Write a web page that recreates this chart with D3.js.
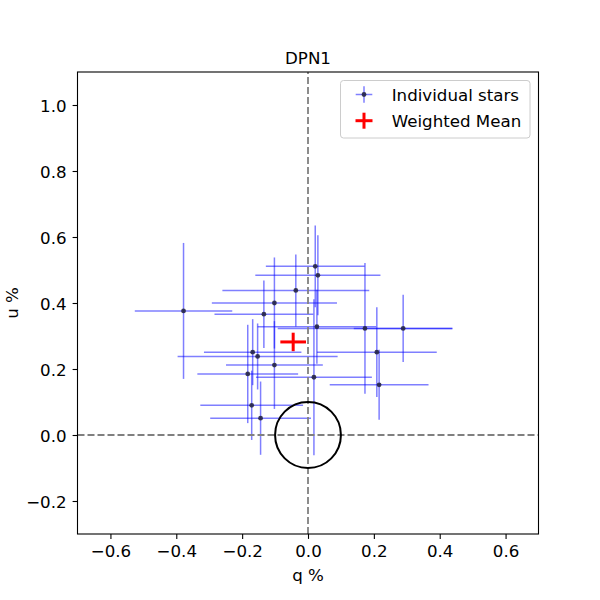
<!DOCTYPE html>
<html>
<head>
<meta charset="utf-8">
<script src="https://cdn.jsdelivr.net/npm/d3@7"></script>
<style>
body{margin:0;background:#fff;}
text{font-family:"DejaVu Sans",sans-serif;fill:#000;}
</style>
</head>
<body>
<svg id="chart" width="600" height="600"></svg>
<script>
// Data
const qVals  = [-0.378, 0.022, 0.030, -0.037, -0.102, -0.134, 0.027, 0.173, 0.289, -0.168, -0.153, 0.209, -0.102, -0.183, 0.018, 0.216, -0.171, -0.144];
const uVals  = [0.376, 0.511, 0.484, 0.438, 0.400, 0.366, 0.328, 0.323, 0.323, 0.251, 0.238, 0.251, 0.212, 0.185, 0.175, 0.152, 0.090, 0.051];
const qErrs  = [0.148, 0.150, 0.190, 0.223, 0.190, 0.150, 0.180, 0.265, 0.150, 0.148, 0.243, 0.182, 0.147, 0.153, 0.176, 0.150, 0.156, 0.153];
const uErrs  = [0.206, 0.124, 0.121, 0.109, 0.138, 0.102, 0.112, 0.198, 0.102, 0.100, 0.100, 0.136, 0.133, 0.149, 0.236, 0.106, 0.105, 0.111];
const meanQ = [-0.045];
const meanU = [0.282];
const meanQErr = [0.039];
const meanUErr = [0.028];
const circleRadius = [0.1];
const xTicks = [-0.6, -0.4, -0.2, 0.0, 0.2, 0.4, 0.6];
const yTicks = [-0.2, 0.0, 0.2, 0.4, 0.6, 0.8, 1.0];
const xDomain = [-0.7, 0.7];
const yDomain = [-0.3, 1.1];
const titleText = "DPN1";
const xLabel = "q %";
const yLabel = "u %";
const legendLabels = ["Individual stars", "Weighted Mean"];

const FS = "16.67px";
const svg = d3.select("#chart");
const L = 77.5, R = 538.5, T = 72, B = 534;
const x = d3.scaleLinear().domain(xDomain).range([L, R]);
const y = d3.scaleLinear().domain(yDomain).range([B, T]);
const fmt = d => d3.format(".1f")(d).replace("-", "\u2212");

const stars = qVals.map((q, i) => ({q, u: uVals[i], qe: qErrs[i], ue: uErrs[i]}));

const plot = svg.append("g");

// error bars
const eb = plot.append("g").attr("stroke", "blue").attr("stroke-opacity", 0.5).attr("stroke-width", 1.5);
stars.forEach(s => {
  eb.append("line").attr("x1", x(s.q - s.qe)).attr("x2", x(s.q + s.qe)).attr("y1", y(s.u)).attr("y2", y(s.u));
  eb.append("line").attr("x1", x(s.q)).attr("x2", x(s.q)).attr("y1", y(s.u - s.ue)).attr("y2", y(s.u + s.ue));
});

// dashed reference lines
plot.append("line").attr("x1", L).attr("x2", R).attr("y1", y(0)).attr("y2", y(0))
  .attr("stroke", "#808080").attr("stroke-width", 1.8).attr("stroke-dasharray", "7,3");
plot.append("line").attr("x1", x(0)).attr("x2", x(0)).attr("y1", B).attr("y2", T)
  .attr("stroke", "#808080").attr("stroke-width", 1.8).attr("stroke-dasharray", "7,3");

// points
plot.append("g").selectAll("circle").data(stars).join("circle")
  .attr("cx", d => x(d.q)).attr("cy", d => y(d.u)).attr("r", 2.4)
  .attr("fill", "#262645").attr("fill-opacity", 0.9);

// circle of radius 0.1
plot.append("ellipse").attr("cx", x(0)).attr("cy", y(0))
  .attr("rx", x(circleRadius[0]) - x(0)).attr("ry", y(0) - y(circleRadius[0]))
  .attr("fill", "none").attr("stroke", "#000").attr("stroke-width", 2);

// weighted mean
const mg = plot.append("g").attr("stroke", "red").attr("stroke-width", 3);
mg.append("line").attr("x1", x(meanQ[0] - meanQErr[0])).attr("x2", x(meanQ[0] + meanQErr[0]))
  .attr("y1", y(meanU[0])).attr("y2", y(meanU[0]));
mg.append("line").attr("x1", x(meanQ[0])).attr("x2", x(meanQ[0]))
  .attr("y1", y(meanU[0] - meanUErr[0])).attr("y2", y(meanU[0] + meanUErr[0]));

// axes
const xAxis = d3.axisBottom(x).tickValues(xTicks).tickFormat(fmt).tickSize(4.9);
const yAxis = d3.axisLeft(y).tickValues(yTicks).tickFormat(fmt).tickSize(4.9).tickPadding(6);
const gx = svg.append("g").attr("transform", `translate(0,${B})`).call(xAxis);
const gy = svg.append("g").attr("transform", `translate(${L},0)`).call(yAxis);
[gx, gy].forEach(g => {
  g.select(".domain").remove();
  g.selectAll(".tick line").attr("stroke", "#000").attr("stroke-width", 1.1);
  g.selectAll(".tick text").attr("font-size", FS).attr("font-family", "DejaVu Sans").attr("fill", "#000");
});
gx.selectAll(".tick text").attr("y", 23.3).attr("dy", 0);
gy.selectAll(".tick text").attr("dy", "0.38em");
// frame
svg.append("rect").attr("x", L).attr("y", T).attr("width", R - L).attr("height", B - T)
  .attr("fill", "none").attr("stroke", "#000").attr("stroke-width", 1.1);

// titles
svg.append("text").attr("x", (L + R) / 2).attr("y", 63.5).attr("text-anchor", "middle")
  .attr("font-size", FS).text(titleText);
svg.append("text").attr("x", (L + R) / 2).attr("y", 581).attr("text-anchor", "middle")
  .attr("font-size", FS).text(xLabel);
svg.append("text").attr("transform", `translate(17.5,${(T + B) / 2}) rotate(-90)`).attr("text-anchor", "middle")
  .attr("font-size", FS).text(yLabel);

// legend
const lg = svg.append("g");
lg.append("rect").attr("x", 340.5).attr("y", 80.5).attr("width", 189.5).attr("height", 57.5)
  .attr("rx", 3).attr("fill", "#fff").attr("fill-opacity", 0.8).attr("stroke", "#ccc").attr("stroke-width", 1);
const hx = 364, hy1 = 94.5, hy2 = 120.7;
lg.append("line").attr("x1", hx - 8.3).attr("x2", hx + 8.3).attr("y1", hy1).attr("y2", hy1)
  .attr("stroke", "blue").attr("stroke-opacity", 0.5).attr("stroke-width", 1.5);
lg.append("line").attr("x1", hx).attr("x2", hx).attr("y1", hy1 - 8.3).attr("y2", hy1 + 8.3)
  .attr("stroke", "blue").attr("stroke-opacity", 0.5).attr("stroke-width", 1.5);
lg.append("circle").attr("cx", hx).attr("cy", hy1).attr("r", 2.4).attr("fill", "#262645").attr("fill-opacity", 0.9);
lg.append("line").attr("x1", hx - 8.5).attr("x2", hx + 8.5).attr("y1", hy2).attr("y2", hy2)
  .attr("stroke", "red").attr("stroke-width", 3);
lg.append("line").attr("x1", hx).attr("x2", hx).attr("y1", hy2 - 8).attr("y2", hy2 + 8)
  .attr("stroke", "red").attr("stroke-width", 3);
lg.append("text").attr("x", 391.7).attr("y", hy1 + 6.3).attr("font-size", FS).text(legendLabels[0]);
lg.append("text").attr("x", 391.7).attr("y", hy2 + 6.3).attr("font-size", FS).text(legendLabels[1]);
</script>
</body>
</html>
